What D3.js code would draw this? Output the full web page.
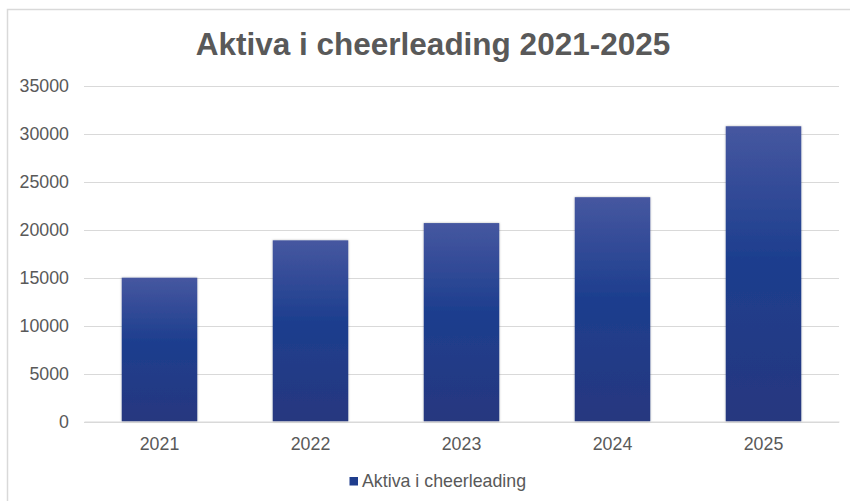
<!DOCTYPE html>
<html><head><meta charset="utf-8">
<script src="https://cdn.jsdelivr.net/npm/d3@7"></script>
<style>body{margin:0;background:#fff}svg{display:block;font-family:"Liberation Sans",Arial,sans-serif}</style>
</head><body><svg id="c" width="850" height="501"></svg>
<script>
const categories = ["2021","2022","2023","2024","2025"];
const values = [15000, 18900, 20700, 23400, 30800];
const yTicks = [0,5000,10000,15000,20000,25000,30000,35000];
const seriesName = "Aktiva i cheerleading";
const title = "Aktiva i cheerleading 2021-2025";

const svg = d3.select("#c");
const W = 850, H = 501;
svg.append("rect").attr("x",0).attr("y",0).attr("width",W).attr("height",H).attr("fill","#fff");
// frame
svg.append("path").attr("d","M7.5,501 V9.5 H850").attr("fill","none").attr("stroke","#d9d9d9").attr("stroke-width",1.5);

const defs = svg.append("defs");
const g = defs.append("linearGradient").attr("id","bg").attr("x1",0).attr("x2",0).attr("y1",0).attr("y2",1);
g.append("stop").attr("offset","0%").attr("stop-color","#4657a0");
g.append("stop").attr("offset","45%").attr("stop-color","#1d3e8e");
g.append("stop").attr("offset","100%").attr("stop-color","#27377f");
const f = defs.append("filter").attr("id","sh").attr("x","-10%").attr("y","-10%").attr("width","120%").attr("height","120%");
f.append("feDropShadow").attr("dx",0).attr("dy",0).attr("stdDeviation",1.2).attr("flood-color","#000").attr("flood-opacity",0.3);

const x = d3.scaleBand().domain(categories).range([84,839]).paddingInner(0.5).paddingOuter(0.25);
const y = d3.scaleLinear().domain([0,35000]).range([421.5,86]);

// gridlines
svg.append("g").selectAll("line").data(yTicks).join("line")
  .attr("x1",84).attr("x2",839).attr("y1",d=>Math.round(y(d))+0.5).attr("y2",d=>Math.round(y(d))+0.5)
  .attr("stroke","#d9d9d9").attr("stroke-width",1);

// y axis labels
const ya = svg.append("g").attr("transform","translate(69,0)")
  .call(d3.axisLeft(y).tickValues(yTicks).tickSize(0).tickPadding(0).tickFormat(d3.format("d")));
ya.select(".domain").remove();
ya.selectAll("text").attr("font-size","17.8px").attr("fill","#595959").attr("font-family","Liberation Sans, Arial, sans-serif");

// bars
svg.append("g").selectAll("rect").data(values).join("rect")
  .attr("x",(d,i)=>x(categories[i])).attr("width",x.bandwidth())
  .attr("y",d=>y(d)).attr("height",d=>y(0)-y(d))
  .attr("fill","url(#bg)").attr("filter","url(#sh)");

// x axis
const xa = svg.append("g").attr("transform","translate(0,421.5)")
  .call(d3.axisBottom(x).tickSize(0).tickPadding(15.5));
xa.select(".domain").attr("stroke","#d9d9d9");
xa.selectAll("text").attr("font-size","17.8px").attr("fill","#595959").attr("font-family","Liberation Sans, Arial, sans-serif");

// title
svg.append("text").attr("x",433).attr("y",54.5).attr("text-anchor","middle")
  .attr("font-size","31.5px").attr("font-weight","bold").attr("fill","#595959").text(title);

// legend
const lg = svg.append("g");
lg.append("rect").attr("x",349.5).attr("y",477).attr("width",8.5).attr("height",8.5).attr("fill","#1f3d8d");
lg.append("text").attr("x",362).attr("y",486.5).attr("font-size","17.8px").attr("fill","#595959").text(seriesName);
</script></body></html>
